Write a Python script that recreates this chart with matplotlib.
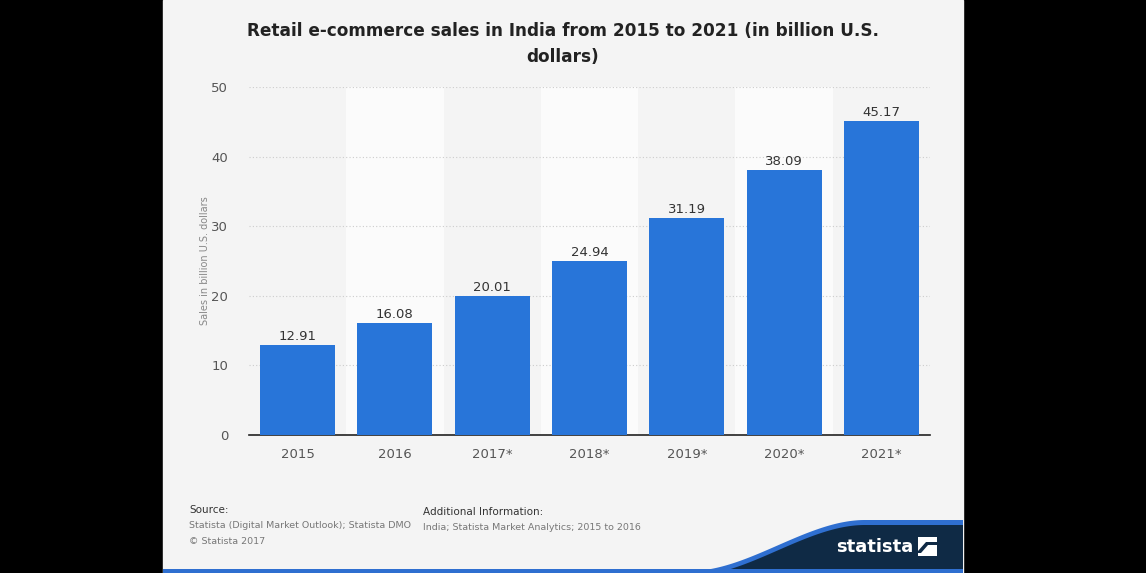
import numpy as np
import matplotlib
matplotlib.use("Agg")
import matplotlib.pyplot as plt
from matplotlib.patches import Rectangle, Polygon

# data
years = ["2015", "2016", "2017*", "2018*", "2019*", "2020*", "2021*"]
sales = [12.91, 16.08, 20.01, 24.94, 31.19, 38.09, 45.17]
yticks = [0, 10, 20, 30, 40, 50]

W, H = 1146, 573
fig = plt.figure(figsize=(W / 100, H / 100), dpi=100)
fig.patch.set_facecolor("black")

# pixel-space overlay for panel / footer decoration
bg = fig.add_axes([0, 0, 1, 1], zorder=0)
bg.set_xlim(0, W)
bg.set_ylim(H, 0)
bg.axis("off")
bg.add_patch(Rectangle((163, 0), 800, H, color="#f4f4f4"))

# swoosh + dark logo area
xs = np.linspace(690, 963, 200)
t = np.clip((xs - 690) / 175.0, 0, 1)
s = t * t * (3 - 2 * t)
curve = 571 - 51 * s
bg.add_patch(Polygon(np.column_stack([np.r_[xs, xs[::-1]], np.r_[curve, curve[::-1] + 6]]),
                     closed=True, color="#2f6fd0", lw=0))
navy_x = np.r_[xs, 963, 690]
navy_y = np.r_[curve + 5, 573, 573]
bg.add_patch(Polygon(np.column_stack([navy_x, navy_y]), closed=True, color="#0f2a45", lw=0))
bg.add_patch(Rectangle((163, 569), 800, 4, color="#2f6fd0", lw=0))
bg.text(875, 547, "statista", color="white", fontsize=13, fontweight="bold",
        ha="center", va="center")
bg.add_patch(Rectangle((918, 537), 19, 19, color="white", lw=0))
bg.add_patch(Polygon([[918, 551], [926, 542], [937, 542], [937, 545], [928, 545], [921, 553], [918, 553]],
                     closed=True, color="#0f2a45", lw=0))

# footer text
bg.text(189, 510, "Source:", fontsize=7.5, color="#333333", va="center")
bg.text(189, 526, "Statista (Digital Market Outlook); Statista DMO", fontsize=6.8, color="#777777", va="center")
bg.text(189, 541, "\u00a9 Statista 2017", fontsize=6.8, color="#777777", va="center")
bg.text(423, 512, "Additional Information:", fontsize=7.5, color="#333333", va="center")
bg.text(423, 527, "India; Statista Market Analytics; 2015 to 2016", fontsize=6.8, color="#777777", va="center")

# title
bg.text(563, 44, "Retail e-commerce sales in India from 2015 to 2021 (in billion U.S.\ndollars)",
        fontsize=12.2, fontweight="bold", color="#222222", ha="center", va="center", linespacing=1.6)

# main chart
ax = fig.add_axes([249 / W, 138 / H, 681 / W, 348 / H], zorder=1)
ax.set_facecolor("none")
x = np.arange(len(years))
for i in x:
    if i % 2 == 1:
        ax.axvspan(i - 0.5, i + 0.5, color="#fbfbfb", lw=0, zorder=0)
ax.bar(x, sales, width=0.77, color="#2875d9", zorder=3)
for xi, v in zip(x, sales):
    ax.text(xi, v + 0.3, f"{v:.2f}", ha="center", va="bottom", fontsize=9.5, color="#333333", zorder=4)

ax.set_xlim(-0.5, len(years) - 0.5)
ax.set_ylim(0, 50)
ax.set_yticks(yticks)
ax.set_xticks(x)
ax.set_xticklabels(years)
ax.yaxis.grid(True, color="#cccccc", linestyle=(0, (1, 2)), lw=0.8, zorder=1)
ax.set_axisbelow(True)
for side in ["top", "right", "left"]:
    ax.spines[side].set_visible(False)
ax.spines["bottom"].set_color("#222222")
ax.spines["bottom"].set_linewidth(1.2)
ax.tick_params(axis="both", length=0, labelsize=9.5, labelcolor="#555555")
ax.tick_params(axis="y", pad=15)
ax.tick_params(axis="x", pad=9)
ax.set_ylabel("Sales in billion U.S. dollars", fontsize=7, color="#888888", labelpad=1)

fig.savefig("out.png", dpi=100, facecolor=fig.get_facecolor())
